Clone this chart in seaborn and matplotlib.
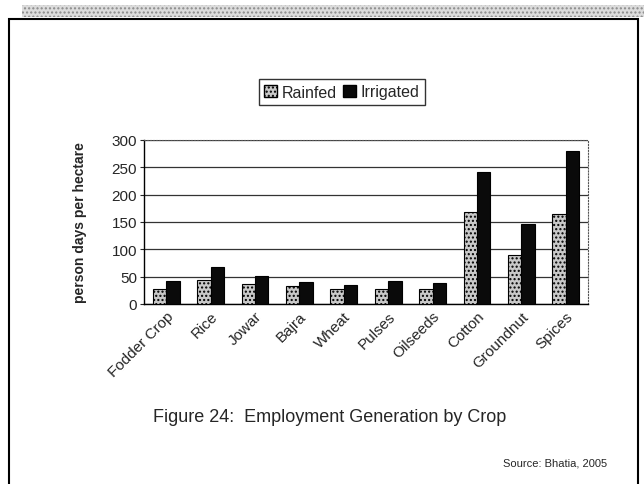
import matplotlib
matplotlib.use("Agg")
import matplotlib.pyplot as plt
import matplotlib.patches as mpatches
import seaborn as sns
import pandas as pd

crops = ["Fodder Crop", "Rice", "Jowar", "Bajra", "Wheat", "Pulses",
         "Oilseeds", "Cotton", "Groundnut", "Spices"]
rainfed = [27, 44, 36, 33, 27, 27, 27, 168, 90, 165]
irrigated = [42, 68, 51, 40, 34, 42, 38, 242, 147, 280]

df = pd.DataFrame({"crop": crops * 2,
                   "value": rainfed + irrigated,
                   "type": ["Rainfed"] * len(crops) + ["Irrigated"] * len(crops)})

sns.set_style("white")
plt.rcParams['font.family'] = ['Liberation Sans', 'DejaVu Sans']

fig = plt.figure(figsize=(6.44, 4.85), dpi=100)
ax = fig.add_axes([144 / 644, 1 - 305 / 485, 444 / 644, 164 / 485])

sns.barplot(data=df, x="crop", y="value", hue="type", order=crops,
            hue_order=["Rainfed", "Irrigated"],
            palette={"Rainfed": "#c9c9c9", "Irrigated": "#0a0a0a"},
            width=0.6, edgecolor="black", linewidth=0.8, ax=ax, zorder=3)
for bar in ax.containers[0]:
    bar.set_hatch("....")

ax.set_ylim(0, 300)
ax.set_yticks(range(0, 301, 50))
ax.set_xlim(-0.5, 9.5)
ax.yaxis.grid(True, color="#333333", linewidth=0.9, zorder=0)
ax.set_xlabel("")
ax.set_ylabel("person days per hectare", fontsize=10, fontweight="bold", labelpad=18)
ax.tick_params(axis="y", labelsize=11, left=True, length=3, pad=2)
ax.tick_params(axis="x", labelsize=11, bottom=True, length=4)
ax.set_xticks([i - 0.5 for i in range(11)], minor=True)
ax.tick_params(axis="x", which="major", length=0)
ax.tick_params(axis="x", which="minor", length=4, color="black")
plt.setp(ax.get_xticklabels(), rotation=45, ha="right", rotation_mode="anchor")
for s in ["left", "bottom"]:
    ax.spines[s].set_color("black")
    ax.spines[s].set_linewidth(1)
for s in ["top", "right"]:
    ax.spines[s].set_color("#555555")
    ax.spines[s].set_linestyle(":")
    ax.spines[s].set_linewidth(0.8)

ax.legend_.remove()
handles = [mpatches.Patch(facecolor="#c9c9c9", edgecolor="black", hatch="....", label="Rainfed"),
           mpatches.Patch(facecolor="#0a0a0a", edgecolor="black", label="Irrigated")]
leg = fig.legend(handles=handles, loc="center", bbox_to_anchor=(342 / 644, 1 - 93 / 485),
                 ncol=2, frameon=True, fancybox=False, fontsize=11.5,
                 handlelength=0.8, handleheight=0.8, handletextpad=0.3,
                 columnspacing=0.4, borderpad=0.35)
leg.get_frame().set_edgecolor("black")
leg.get_frame().set_linewidth(1)

fig.text(330 / 644, 1 - 417 / 485, "Figure 24:  Employment Generation by Crop",
         ha="center", va="center", fontsize=13)
fig.text(607 / 644, 1 - 463 / 485, "Source: Bhatia, 2005",
         ha="right", va="center", fontsize=8)

# page border and scanned header band
fig.patches.append(mpatches.Rectangle((9 / 644, -0.05), 629 / 644, 1 - 20 / 485 + 0.05,
                                      transform=fig.transFigure, fill=False,
                                      edgecolor="black", linewidth=1.5))
fig.patches.append(mpatches.Rectangle((22 / 644, 1 - 18 / 485), 622 / 644, 12 / 485,
                                      transform=fig.transFigure, facecolor="#dcdcdc",
                                      edgecolor="#8a8a8a", hatch="....", linewidth=0))

fig.savefig("out.png", dpi=100)
